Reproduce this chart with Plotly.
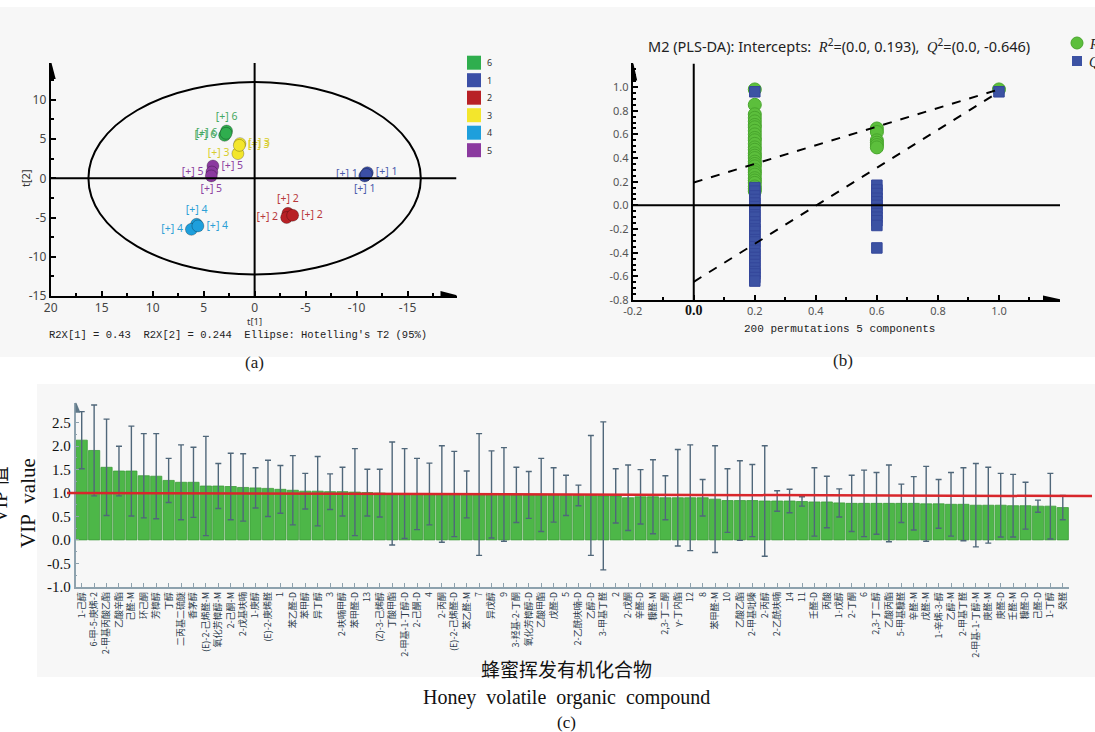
import plotly.graph_objects as go

W, H = 1095, 732
def px(x): return x / W
def py(y): return 1 - y / H

# ---------------- Panel (a) data: PLS-DA score plot ----------------
group_names = ['6', '1', '2', '3', '4', '5']
group_colors = ['#2fae4e', '#3b4fa6', '#b82126', '#f3e62c', '#1e9fdc', '#8b3a9f']
label_colors = ['#45a860', '#4c5cab', '#b8393b', '#d8cd2a', '#2c9fd6', '#8c409f']
g6_t1 = [2.75, 2.94, 2.80];   g6_t2 = [6.03, 5.48, 5.74]
g1_t1 = [-11.05, -10.8, -10.95]; g1_t2 = [0.72, 0.30, 0.50]
g2_t1 = [-3.27, -3.14, -3.73]; g2_t2 = [-4.46, -5.00, -4.71]
g3_t1 = [1.44, 1.64, 1.50];   g3_t2 = [4.42, 3.15, 4.20]
g4_t1 = [5.69, 6.20, 5.56];   g4_t2 = [-5.86, -6.50, -6.07]
g5_t1 = [4.09, 4.19, 4.25];   g5_t2 = [1.57, 0.80, 0.30]
g_label_pos = [
    ['top center', 'middle left', 'middle left'],
    ['middle right', 'bottom center', 'middle left'],
    ['top center', 'middle left', 'middle right'],
    ['middle right', 'middle left', 'middle right'],
    ['top center', 'middle left', 'middle right'],
    ['middle right', 'middle left', 'bottom center'],
]
ellipse_t1 = 16.3
ellipse_t2 = 12.27

# ---------------- Panel (b) data: permutation test ----------------
r2_at_02 = [0.98, 0.85, 0.77, 0.74, 0.71, 0.68, 0.66, 0.63, 0.60, 0.57, 0.55, 0.52,
            0.49, 0.47, 0.44, 0.42, 0.40, 0.37, 0.35, 0.33, 0.30, 0.28, 0.26, 0.23,
            0.21, 0.19, 0.16, 0.14, 0.12]
r2_at_06 = [0.65, 0.62, 0.55, 0.53, 0.51, 0.49]
r2_at_10 = [0.98]
q2_at_02 = [0.96, 0.15, 0.12, 0.08, 0.05, 0.02, -0.01, -0.05, -0.08, -0.10, -0.14,
            -0.17, -0.20, -0.22, -0.26, -0.29, -0.31, -0.35, -0.38, -0.41, -0.44,
            -0.47, -0.50, -0.53, -0.56, -0.58, -0.61, -0.64]
q2_at_06 = [0.17, 0.13, 0.10, 0.06, 0.03, 0.0, -0.03, -0.07, -0.10, -0.13, -0.17, -0.36]
q2_at_10 = [0.96]
r2_line_x = [0.0, 1.0]; r2_line_y = [0.193, 0.98]
q2_line_x = [0.0, 1.0]; q2_line_y = [-0.646, 0.96]

# ---------------- Panel (c) data: VIP values ----------------
compounds = [
    '1-己醇', '6-甲-5-庚烯-2', '2-甲基丙酸乙酯', '乙酸辛酯', '己醛-M', '环己酮', '芳樟醇', '丁醇',
    '二丙基二硫醚', '香茅醇', '(E)-2-己烯醛-M', '氧化芳樟醇-M', '2-己酮-M', '2-戊基呋喃', '1-庚醇',
    '(E)-2-庚烯醛', '1', '苯乙醛-D', '苯甲醇', '异丁醇', '3', '2-呋喃甲醇', '苯甲醛-D', '13',
    '(Z)-3-己烯醇', '丁酸甲酯', '2-甲基-1-丁醇-D', '2-己酮-D', '4', '2-丙酮', '(E)-2-己烯醛-D',
    '苯乙醛-M', '7', '异戊醇', '9', '3-羟基-2-丁酮', '氧化芳樟醇-D', '乙酸甲酯', '戊醛-D', '5',
    '2-乙酰呋喃-D', '乙醇-D', '3-甲基丁醛', '2', '2-戊酮', '辛醛-D', '糠醛-M', '2,3-丁二酮',
    'γ-丁内酯', '12', '8', '苯甲醛-M', '10', '乙酸乙酯', '2-甲基吡嗪', '2-丙醇', '2-乙酰呋喃',
    '14', '11', '壬醛-D', '丙酸', '1-戊醇', '2-丁酮', '6', '2,3-丁二醇', '乙酸丙酯', '5-甲基糠醛',
    '辛醛-M', '戊醛-M', '1-辛烯-3-醇', '乙醇-M', '2-甲基丁醛', '2-甲基-1-丁醇-M', '庚醛-M',
    '庚醛-D', '壬醛-M', '糠醛-D', '己醛-D', '1-丁醇', '癸醛']
vip = [2.13, 1.91, 1.55, 1.47, 1.47, 1.37, 1.36, 1.27, 1.23, 1.23, 1.15, 1.15, 1.14, 1.12,
       1.11, 1.10, 1.08, 1.06, 1.04, 1.04, 1.03, 1.03, 1.02, 1.01, 1.00, 0.99, 0.99, 0.98,
       0.98, 0.98, 0.98, 0.97, 0.97, 0.97, 0.97, 0.96, 0.96, 0.96, 0.96, 0.95, 0.95, 0.95,
       0.94, 0.94, 0.90, 0.92, 0.92, 0.90, 0.90, 0.90, 0.90, 0.87, 0.84, 0.84, 0.84, 0.83,
       0.83, 0.83, 0.82, 0.81, 0.81, 0.79, 0.78, 0.78, 0.78, 0.78, 0.78, 0.78, 0.77, 0.77,
       0.76, 0.76, 0.74, 0.74, 0.74, 0.73, 0.73, 0.72, 0.72, 0.69]
vip_err = [0.61, 0.97, 1.03, 0.53, 0.96, 0.90, 0.91, 0.47, 0.80, 0.75, 1.06, 0.48, 0.71, 0.72,
           0.43, 0.60, 0.51, 0.74, 0.38, 0.74, 0.38, 0.52, 0.93, 0.50, 0.51, 1.10, 0.96, 0.76,
           0.66, 1.03, 0.91, 0.50, 1.30, 0.93, 1.00, 0.59, 0.50, 0.78, 0.58, 0.43, 0.22, 1.28,
           1.58, 0.58, 0.70, 0.58, 0.79, 0.47, 1.03, 1.13, 0.39, 1.14, 0.68, 0.85, 0.77, 1.18,
           0.22, 0.25, 0.10, 0.73, 0.55, 0.30, 0.60, 0.71, 0.66, 0.82, 0.41, 0.57, 0.80, 0.52,
           0.68, 0.78, 0.89, 0.81, 0.68, 0.67, 0.50, 0.13, 0.70, 0.26]
vip_threshold_left = 1.0
vip_threshold_right = 0.935

fig = go.Figure()


def ann(x, y, text, size, family='Noto Sans', color='#222', xanchor='center',
        yanchor='middle', angle=0):
    return dict(x=px(x), y=py(y), xref='paper', yref='paper', text=text, showarrow=False,
                xanchor=xanchor, yanchor=yanchor, textangle=angle,
                font=dict(family=family, size=size, color=color))


# ---------- backgrounds ----------
shapes = [
    dict(type='rect', xref='paper', yref='paper', x0=0, x1=1, y0=py(357), y1=py(7),
         fillcolor='#f7f7f7', line=dict(width=0), layer='below'),
    dict(type='rect', xref='paper', yref='paper', x0=px(37), x1=1, y0=py(677), y1=py(384),
         fillcolor='#f7f7f7', line=dict(width=0), layer='below'),
]

# ---------- Panel (a) ----------
ga_t1 = [g6_t1, g1_t1, g2_t1, g3_t1, g4_t1, g5_t1]
ga_t2 = [g6_t2, g1_t2, g2_t2, g3_t2, g4_t2, g5_t2]
for name, col, lcol, t1, t2, pos in zip(group_names, group_colors, label_colors, ga_t1, ga_t2, g_label_pos):
    fig.add_trace(go.Scatter(
        x=t1, y=t2, mode='markers+text', xaxis='x', yaxis='y',
        marker=dict(size=12, color=col, line=dict(color='rgba(0,0,0,0.25)', width=1)),
        text=['[+] ' + name] * len(t1), textposition=pos,
        textfont=dict(family='Noto Sans', size=10.5, color=lcol),
        cliponaxis=False, hoverinfo='skip'))

shapes += [
    dict(type='circle', xref='x', yref='y', x0=ellipse_t1, x1=-ellipse_t1,
         y0=-ellipse_t2, y1=ellipse_t2, line=dict(color='black', width=2)),
    dict(type='line', xref='x', yref='y', x0=0, x1=0, y0=-15, y1=14.7,
         line=dict(color='black', width=2)),
    dict(type='line', xref='x', yref='y', x0=20, x1=-19.8, y0=0, y1=0,
         line=dict(color='black', width=2)),
    dict(type='path', xref='x', yref='y', xsizemode='pixel', ysizemode='pixel',
         xanchor=-19.8, yanchor=-15, path='M -16,5 L 3,0 L -16,-5 Z',
         fillcolor='black', line=dict(width=0)),
    dict(type='path', xref='x', yref='y', xsizemode='pixel', ysizemode='pixel',
         xanchor=20, yanchor=14.7, path='M -5,-16 L 0,3 L 5,-16 Z',
         fillcolor='black', line=dict(width=0)),
]
leg_y = [62.7, 80.2, 97.7, 115.2, 132.7, 150.2]
annotations = []
for name, col, yy in zip(group_names, group_colors, leg_y):
    shapes.append(dict(type='rect', xref='paper', yref='paper', x0=px(467), x1=px(481),
                       y0=py(yy + 7), y1=py(yy - 7), fillcolor=col, line=dict(width=0)))
    annotations.append(ann(485, yy, name, 9, color='#333', xanchor='left'))

annotations += [
    ann(254, 322, 't[1]', 9.5, color='#333'),
    ann(26, 178, 't[2]', 11, color='#333', angle=-90),
    ann(47, 335, "R2X[1] = 0.43&nbsp; R2X[2] = 0.244&nbsp; Ellipse: Hotelling's T2 (95%)",
        10.5, family='Liberation Mono', xanchor='left'),
    ann(254, 362, '(a)', 17, family='Liberation Serif'),
]

# ---------- Panel (b) ----------
fig.add_trace(go.Scatter(
    x=[0.2] * len(r2_at_02) + [0.6] * len(r2_at_06) + [1.0] * len(r2_at_10),
    y=r2_at_02 + r2_at_06 + r2_at_10, mode='markers', xaxis='x2', yaxis='y2',
    marker=dict(symbol='circle', size=13, color='#5cbf3c', line=dict(color='#48a52c', width=1)),
    cliponaxis=False, hoverinfo='skip'))
fig.add_trace(go.Scatter(
    x=[0.2] * len(q2_at_02) + [0.6] * len(q2_at_06) + [1.0] * len(q2_at_10),
    y=q2_at_02 + q2_at_06 + q2_at_10, mode='markers', xaxis='x2', yaxis='y2',
    marker=dict(symbol='square', size=10.5, color='#3c52a3', line=dict(color='#34479a', width=1)),
    cliponaxis=False, hoverinfo='skip'))
for lx, ly in [(r2_line_x, r2_line_y), (q2_line_x, q2_line_y)]:
    fig.add_trace(go.Scatter(x=lx, y=ly, mode='lines', xaxis='x2', yaxis='y2',
                             line=dict(color='black', width=2, dash='dash'), hoverinfo='skip'))

shapes += [
    dict(type='line', xref='x2', yref='y2', x0=0, x1=0, y0=-0.8, y1=1.2,
         line=dict(color='black', width=2)),
    dict(type='line', xref='x2', yref='y2', x0=-0.2, x1=1.2, y0=0, y1=0,
         line=dict(color='black', width=2)),
    dict(type='path', xref='x2', yref='y2', xsizemode='pixel', ysizemode='pixel',
         xanchor=1.2, yanchor=-0.8, path='M -17,4.5 L 3,0 L -17,-4.5 Z',
         fillcolor='black', line=dict(width=0)),
    dict(type='path', xref='x2', yref='y2', xsizemode='pixel', ysizemode='pixel',
         xanchor=-0.2, yanchor=1.2, path='M -4.5,-17 L 0,3 L 4.5,-17 Z',
         fillcolor='black', line=dict(width=0)),
    dict(type='circle', xref='paper', yref='paper', x0=px(1071), x1=px(1083),
         y0=py(49), y1=py(37), fillcolor='#5cbf3c', line=dict(color='#48a52c', width=1)),
    dict(type='rect', xref='paper', yref='paper', x0=px(1072), x1=px(1082),
         y0=py(66), y1=py(56), fillcolor='#3c52a3', line=dict(width=0)),
]
serif_R = '<span style="font-family:Liberation Serif"><i>R</i></span>'
serif_Q = '<span style="font-family:Liberation Serif"><i>Q</i></span>'
annotations += [
    ann(839, 45, 'M2 (PLS-DA): Intercepts:&nbsp; ' + serif_R + '<sup>2</sup>=(0.0, 0.193),&nbsp; '
        + serif_Q + '<sup>2</sup>=(0.0, -0.646)', 14.5),
    ann(1087, 43, serif_R + '<sup>2</sup>', 14, family='Liberation Serif', xanchor='left'),
    ann(1087, 61, serif_Q + '<sup>2</sup>', 14, family='Liberation Serif', xanchor='left'),
    ann(839, 329, '200 permutations 5 components', 11, family='Liberation Mono'),
    ann(843, 361, '(b)', 17, family='Liberation Serif'),
]

# ---------- Panel (c) ----------
xs = list(range(len(compounds)))
fig.add_trace(go.Bar(
    x=xs, y=vip, xaxis='x3', yaxis='y3',
    marker=dict(color='#4db748', line=dict(color='#3c9c38', width=0.8)),
    error_y=dict(type='data', array=vip_err, visible=True, color='#50677a',
                 thickness=1.4, width=3),
    hoverinfo='skip'))
shapes += [
    dict(type='line', xref='paper', yref='y3', x0=px(67), x1=px(1092),
         y0=vip_threshold_left, y1=vip_threshold_right, line=dict(color='#d8262b', width=2.5)),
    dict(type='path', xref='x3', yref='y3', xsizemode='pixel', ysizemode='pixel',
         xanchor=-0.5, yanchor=2.93, path='M -5,-10 L 0,2 L 5,-10 Z',
         fillcolor='#5f7888', line=dict(width=0)),
]
annotations += [
    ann(0, 495, 'VIP 值', 20, family='Liberation Serif, Noto Sans CJK SC', color='#111', angle=-90),
    ann(28, 503, 'VIP&nbsp; value', 21, family='Liberation Serif', color='#111', angle=-90),
    ann(566, 668, '蜂蜜挥发有机化合物', 19, family='Noto Sans CJK SC', color='#111'),
    ann(566, 697, 'Honey&nbsp; volatile&nbsp; organic&nbsp; compound', 20,
        family='Liberation Serif', color='#111'),
    ann(566, 722, '(c)', 17, family='Liberation Serif', color='#111'),
]

tick_font_a = dict(family='Noto Sans', size=12, color='#444')
tick_font_b = dict(family='Noto Sans', size=11, color='#555')

fig.update_layout(
    width=W, height=H, autosize=False,
    margin=dict(l=0, r=0, t=0, b=0, pad=0),
    paper_bgcolor='white', plot_bgcolor='rgba(0,0,0,0)',
    showlegend=False, bargap=0.1,
    shapes=shapes, annotations=annotations,
    xaxis=dict(domain=[px(50.7), px(456.5)], range=[20, -19.8], anchor='y', automargin=False,
               showgrid=False, zeroline=False, showline=True, linecolor='black', linewidth=2,
               ticks='inside', ticklen=5, tickwidth=1.5, tickcolor='black',
               tickvals=[20, 15, 10, 5, 0, -5, -10, -15],
               ticktext=['20', '15', '10', '5', '0', '-5', '-10', '-15'],
               minor=dict(dtick=2.5, ticks='inside', ticklen=3, tickcolor='black'),
               tickfont=tick_font_a),
    yaxis=dict(domain=[py(296), py(63)], range=[-15, 14.7], anchor='x', automargin=False,
               showgrid=False, zeroline=False, showline=True, linecolor='black', linewidth=2,
               ticks='inside', ticklen=5, tickwidth=1.5, tickcolor='black',
               tickvals=[10, 5, 0, -5, -10, -15],
               ticktext=['10', '5', '0', '-5', '-10', '-15'],
               minor=dict(dtick=2.5, ticks='inside', ticklen=3, tickcolor='black'),
               tickfont=tick_font_a),
    xaxis2=dict(domain=[px(632.7), px(1060)], range=[-0.2, 1.2], anchor='y2', automargin=False,
                showgrid=False, zeroline=False, showline=True, linecolor='black', linewidth=2,
                ticks='inside', ticklen=5, tickwidth=1.5, tickcolor='black',
                tickvals=[-0.2, 0.0, 0.2, 0.4, 0.6, 0.8, 1.0],
                ticktext=['-0.2',
                          '<span style="font-family:Liberation Serif;font-size:14px;color:#111"><b>0.0</b></span>',
                          '0.2', '0.4', '0.6', '0.8', '1.0'],
                minor=dict(dtick=0.1, ticks='inside', ticklen=3, tickcolor='black'),
                tickfont=tick_font_b),
    yaxis2=dict(domain=[py(300), py(63.4)], range=[-0.8, 1.2], anchor='x2', automargin=False,
                showgrid=False, zeroline=False, showline=True, linecolor='black', linewidth=2,
                ticks='inside', ticklen=5, tickwidth=1.5, tickcolor='black',
                tickvals=[1.0, 0.8, 0.6, 0.4, 0.2, 0.0, -0.2, -0.4, -0.6, -0.8],
                ticktext=['1.0', '0.8', '0.6', '0.4', '0.2', '0.0', '-0.2', '-0.4', '-0.6', '-0.8'],
                minor=dict(dtick=0.05, ticks='inside', ticklen=3, tickcolor='black'),
                tickfont=tick_font_b),
    xaxis3=dict(domain=[px(75.5), px(1069)], range=[-0.5, len(compounds) - 0.5], anchor='y3',
                automargin=False,
                showgrid=False, zeroline=False, showline=True, linecolor='#8ea2ae', linewidth=1.5,
                ticks='inside', ticklen=4, tickcolor='#8ea2ae',
                tickvals=xs, ticktext=compounds, tickangle=-90,
                tickfont=dict(family='Noto Sans CJK SC', size=9, color='#2b3a4a')),
    yaxis3=dict(domain=[py(586.7), py(402.7)], range=[-1.0, 2.93], anchor='x3', automargin=False,
                showgrid=False, zeroline=False, showline=True, linecolor='#8ea2ae', linewidth=1.5,
                ticks='inside', ticklen=4, tickcolor='#8ea2ae',
                tickvals=[2.5, 2.0, 1.5, 1.0, 0.5, 0.0, -0.5, -1.0],
                ticktext=['2.5', '2.0', '1.5', '1.0', '0.5', '0.0', '-0.5', '-1.0'],
                minor=dict(dtick=0.25, ticks='inside', ticklen=2, tickcolor='#8ea2ae'),
                tickfont=dict(family='Liberation Serif', size=15, color='#111')),
)

fig.write_html('out.html', config={'displayModeBar': False},
               post_script="document.body.style.margin='0';document.body.style.padding='0';"
                           "document.body.style.overflow='hidden';")
